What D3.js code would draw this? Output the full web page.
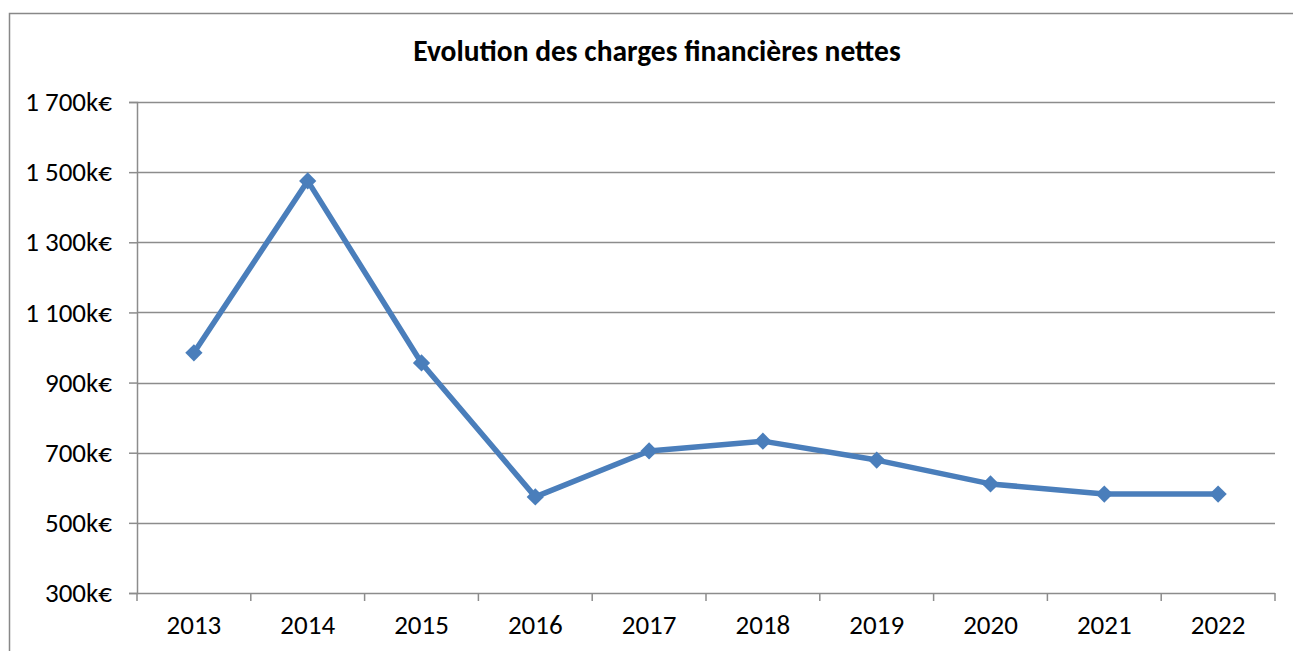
<!DOCTYPE html>
<html>
<head>
<meta charset="utf-8">
<script src="https://cdn.jsdelivr.net/npm/d3@7"></script>
<style>
  body { margin: 0; background: #fff; }
  text { font-family: Carlito, Lato, "Open Sans", sans-serif; fill: #000; }
</style>
</head>
<body>
<script>
const width = 1293;
const height = 651;

const years = ['2013', '2014', '2015', '2016', '2017', '2018', '2019', '2020', '2021', '2022'];
const charges = [985, 1475, 956, 574, 705, 733, 679, 611, 582, 582];
const yTicks = [300, 500, 700, 900, 1100, 1300, 1500, 1700];
const title = 'Evolution des charges financières nettes';

let svg = d3.select('body')
    .append('svg')
    .attr('width', width)
    .attr('height', height);

// chart frame
svg.append('rect')
    .attr('x', 9.5)
    .attr('y', 13.5)
    .attr('width', 1300)
    .attr('height', 700)
    .attr('fill', 'none')
    .attr('stroke', '#888')
    .attr('stroke-width', 1.5);

let plotMargins = { top: 102, bottom: 58, left: 137, right: 18 };
let plotWidth = width - plotMargins.left - plotMargins.right;
let plotHeight = height - plotMargins.top - plotMargins.bottom;

let plotGroup = svg.append('g')
    .attr('transform', `translate(${plotMargins.left}, ${plotMargins.top})`);

let xScale = d3.scaleBand()
    .domain(years)
    .range([0, plotWidth]);

let yScale = d3.scaleLinear()
    .domain([300, 1700])
    .range([plotHeight, 0]);

// gridlines
plotGroup.append('g')
    .selectAll('line')
    .data(yTicks.slice(1))
    .enter()
    .append('line')
    .attr('x1', 0)
    .attr('x2', plotWidth)
    .attr('y1', d => Math.round(yScale(d)) + 0.5)
    .attr('y2', d => Math.round(yScale(d)) + 0.5)
    .attr('stroke', '#8c8c8c')
    .attr('stroke-width', 1.5);

let fmt = d => (d >= 1000 ? Math.floor(d / 1000) + ' ' + String(d % 1000).padStart(3, '0') : d) + 'k€';

let yAxis = d3.axisLeft(yScale)
    .tickValues(yTicks)
    .tickSize(8)
    .tickPadding(17)
    .tickFormat(fmt);

let yAxisGroup = plotGroup.append('g')
    .call(yAxis);

let xAxis = d3.axisBottom(xScale)
    .tickSize(0)
    .tickPadding(22);

let xAxisGroup = plotGroup.append('g')
    .attr('transform', `translate(0, ${plotHeight})`)
    .call(xAxis);

// x tick marks at category boundaries
xAxisGroup.selectAll('.bound')
    .data(years.concat(['end']))
    .enter()
    .append('line')
    .attr('x1', (d, i) => i * xScale.step())
    .attr('x2', (d, i) => i * xScale.step())
    .attr('y1', 0)
    .attr('y2', 8)
    .attr('stroke', '#8c8c8c')
    .attr('stroke-width', 1.5);

[yAxisGroup, xAxisGroup].forEach(g => {
    g.select('.domain').attr('stroke', '#8c8c8c').attr('stroke-width', 1.5);
    g.selectAll('.tick line').attr('stroke', '#8c8c8c').attr('stroke-width', 1.5);
    g.selectAll('text').style('font-size', '27px').attr('fill', '#000');
});
xAxisGroup.select('.domain').attr('d', `M0,0.5H${plotWidth}`);

let line = d3.line()
    .x((d, i) => xScale(years[i]) + xScale.bandwidth() / 2)
    .y(d => yScale(d));

plotGroup.append('path')
    .datum(charges)
    .attr('d', line)
    .attr('fill', 'none')
    .attr('stroke', '#4a7ebb')
    .attr('stroke-width', 5.5)
    .attr('stroke-linejoin', 'round');

let diamond = d3.symbol().type(d3.symbolDiamond2).size(190);

plotGroup.append('g')
    .selectAll('path')
    .data(charges)
    .enter()
    .append('path')
    .attr('d', diamond)
    .attr('transform', (d, i) => `translate(${xScale(years[i]) + xScale.bandwidth() / 2}, ${yScale(d)})`)
    .attr('fill', '#4a7ebb');

svg.append('text')
    .attr('x', 657)
    .attr('y', 61)
    .attr('text-anchor', 'middle')
    .style('font-size', '29.5px')
    .style('font-weight', 'bold')
    .text(title);
</script>
</body>
</html>
